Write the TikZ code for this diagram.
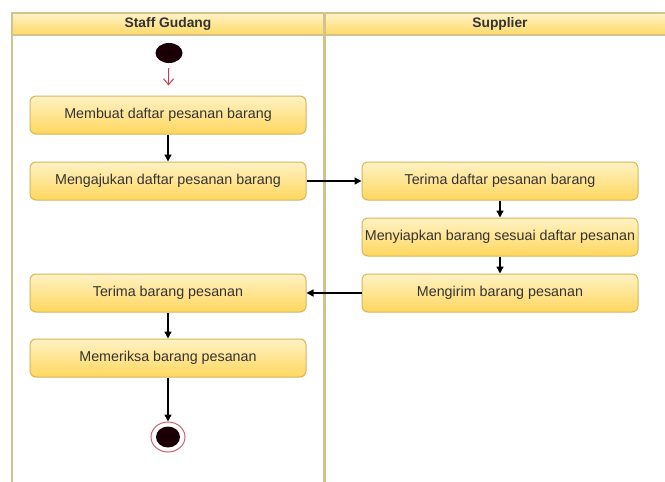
\documentclass[tikz,border=0pt]{standalone}
\usepackage{fontspec}
\setmainfont{Liberation Sans}
\usetikzlibrary{arrows.meta,shapes.geometric}
\definecolor{laneedge}{HTML}{D2C38C}
\definecolor{headtop}{HTML}{FFF3C8}
\definecolor{headbot}{HTML}{FFD966}
\definecolor{boxtop}{HTML}{FFF2C4}
\definecolor{boxbot}{HTML}{FFD75E}
\definecolor{boxedge}{HTML}{D6B656}
\definecolor{textc}{HTML}{333333}
\definecolor{startc}{HTML}{1A0006}
\definecolor{startarr}{HTML}{C0405A}
\definecolor{endring}{HTML}{D06070}
\tikzset{
  act/.style={rounded corners=6pt, draw=boxedge, line width=1pt,
    top color=boxtop, bottom color=boxbot,
    minimum width=276pt, minimum height=38pt, inner sep=0pt,
    font=\fontsize{14.3}{16}\selectfont, text=textc},
  flow/.style={draw=black, line width=1.4pt, -{Triangle[length=7pt,width=7pt]}},
  startflow/.style={draw=startarr, line width=1pt, -{Straight Barb[length=6pt,width=10pt]}},
  headtext/.style={font=\bfseries\fontsize{13.8}{16}\selectfont, text=textc},
}
\begin{document}
\begin{tikzpicture}[x=1pt,y=-1pt]
  \useasboundingbox[fill=white] (0,0) rectangle (665,482);
  % swimlane header
  \shade[top color=headtop, bottom color=headbot] (11,13) rectangle (665,35);
  \draw[laneedge, line width=1.5pt] (11,13) -- (665,13);
  \draw[laneedge, line width=1.5pt] (11,35) -- (665,35);
  % lane borders
  \draw[laneedge, line width=2pt] (11.5,13) -- (11.5,482);
  \draw[laneedge, line width=3pt] (324,13) -- (324,482);
  \node[headtext] (h1) at (168,24) {Staff Gudang};
  \node[headtext] (h2) at (500,24) {Supplier};

  % start and end states
  \node[ellipse, fill=startc, minimum width=27pt, minimum height=20pt, inner sep=0pt] (s) at (169,53) {};
  \node[ellipse, draw=endring, fill=white, line width=1pt, minimum width=34pt, minimum height=30pt, inner sep=0pt] (e) at (168,437) {};
  \node[ellipse, fill=startc, minimum width=24pt, minimum height=21pt, inner sep=0pt] (ei) at (168,437) {};

  % activities
  \node[act] (a1) at (168,115) {Membuat daftar pesanan barang};
  \node[act] (a2) at (168,181) {Mengajukan daftar pesanan barang};
  \node[act] (b1) at (500,181) {Terima daftar pesanan barang};
  \node[act] (b2) at (500,237) {Menyiapkan barang sesuai daftar pesanan};
  \node[act] (b3) at (500,293) {Mengirim barang pesanan};
  \node[act] (a3) at (168,293) {Terima barang pesanan};
  \node[act] (a4) at (168,358) {Memeriksa barang pesanan};

  % transitions
  \draw[startflow, shorten <=5pt, shorten >=10pt] (s) -- (a1);
  \draw[flow] (a1) -- (a2);
  \draw[flow] (a2) -- (b1);
  \draw[flow] (b1) -- (b2);
  \draw[flow] (b2) -- (b3);
  \draw[flow] (b3) -- (a3);
  \draw[flow] (a3) -- (a4);
  \draw[flow] (a4) -- (e);
\end{tikzpicture}
\end{document}
